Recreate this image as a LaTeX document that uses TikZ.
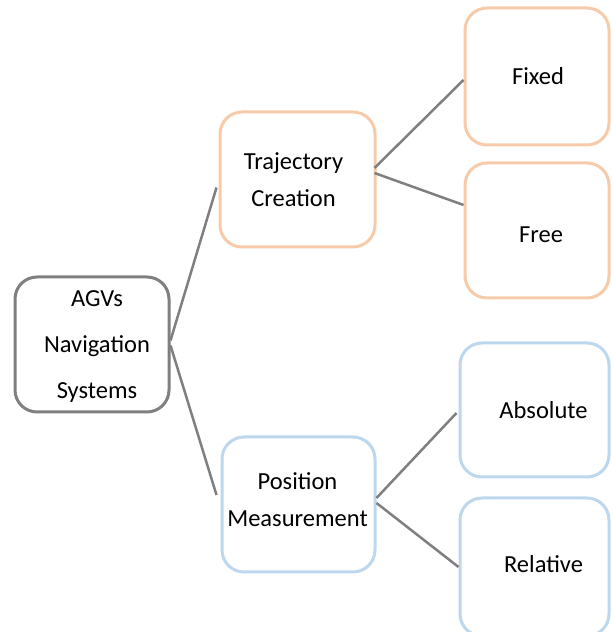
\documentclass[tikz,border=0pt]{standalone}
\usepackage{fontspec}
\setmainfont{Carlito}
\definecolor{rootgray}{HTML}{7F7F7F}
\definecolor{linegray}{HTML}{7F7F7F}
\definecolor{peach}{HTML}{F7CBAA}
\definecolor{skyblue}{HTML}{BDD7EE}
\tikzset{
  box/.style={draw, rectangle, rounded corners=22pt, line width=3pt, fill=white, inner sep=0pt},
  rootbox/.style={box, draw=rootgray},
  trajbox/.style={box, draw=peach},
  posbox/.style={box, draw=skyblue},
  caption/.style={align=center, inner sep=0pt, font=\fontsize{24.5}{37}\selectfont},
  link/.style={draw=linegray, line width=2.5pt}
}
\begin{document}
\begin{tikzpicture}[x=1pt,y=1pt]
\useasboundingbox (0,0) rectangle (611,632);
% boxes
\node[rootbox, minimum width=154pt, minimum height=135pt] (agv) at (92,287.5) {};
\node[trajbox, minimum width=155pt, minimum height=135pt] (traj) at (297.5,452.5) {};
\node[posbox, minimum width=153pt, minimum height=135pt] (pos) at (298.5,127.5) {};
\node[trajbox, minimum width=144pt, minimum height=137pt] (fixed) at (537,555.5) {};
\node[trajbox, minimum width=144pt, minimum height=135pt] (free) at (537,401.5) {};
\node[posbox, minimum width=149pt, minimum height=134pt] (abs) at (534.5,222) {};
\node[posbox, minimum width=149pt, minimum height=138pt] (rel) at (534.5,65) {};
% captions
\node[caption, font=\fontsize{24.5}{46}\selectfont] (agvText) at ([xshift=5pt,yshift=-2pt]agv.center)
  {AGVs\\Navigation\\Systems};
\node[caption] (trajText) at ([xshift=-4pt]traj.center) {Trajectory\\Creation};
\node[caption] (posText) at ([xshift=-1pt,yshift=5pt]pos.center) {Position\\Measurement};
\node[caption] (fixedText) at ([xshift=1pt]fixed.center) {Fixed};
\node[caption] (freeText) at ([xshift=4pt,yshift=-4pt]free.center) {Free};
\node[caption] (absText) at ([xshift=9pt]abs.center) {Absolute};
\node[caption] (relText) at ([xshift=9pt,yshift=3pt]rel.center) {Relative};
% connectors
\draw[link] ([yshift=4pt]agv.east) -- ([xshift=-2pt,yshift=-8pt]traj.west);
\draw[link] ([yshift=-1pt]agv.east) -- ([xshift=-4pt,yshift=9.5pt]pos.west);
\draw[link] ([xshift=-2pt,yshift=11.5pt]traj.east) -- ([yshift=-3.5pt]fixed.west);
\draw[link] ([xshift=-2pt,yshift=6.5pt]traj.east) -- ([yshift=25.5pt]free.west);
\draw[link] ([yshift=6.5pt]pos.east) -- ([xshift=-2pt,yshift=-3pt]abs.west);
\draw[link] ([yshift=1.5pt]pos.east) -- (rel.west);
\end{tikzpicture}
\end{document}
